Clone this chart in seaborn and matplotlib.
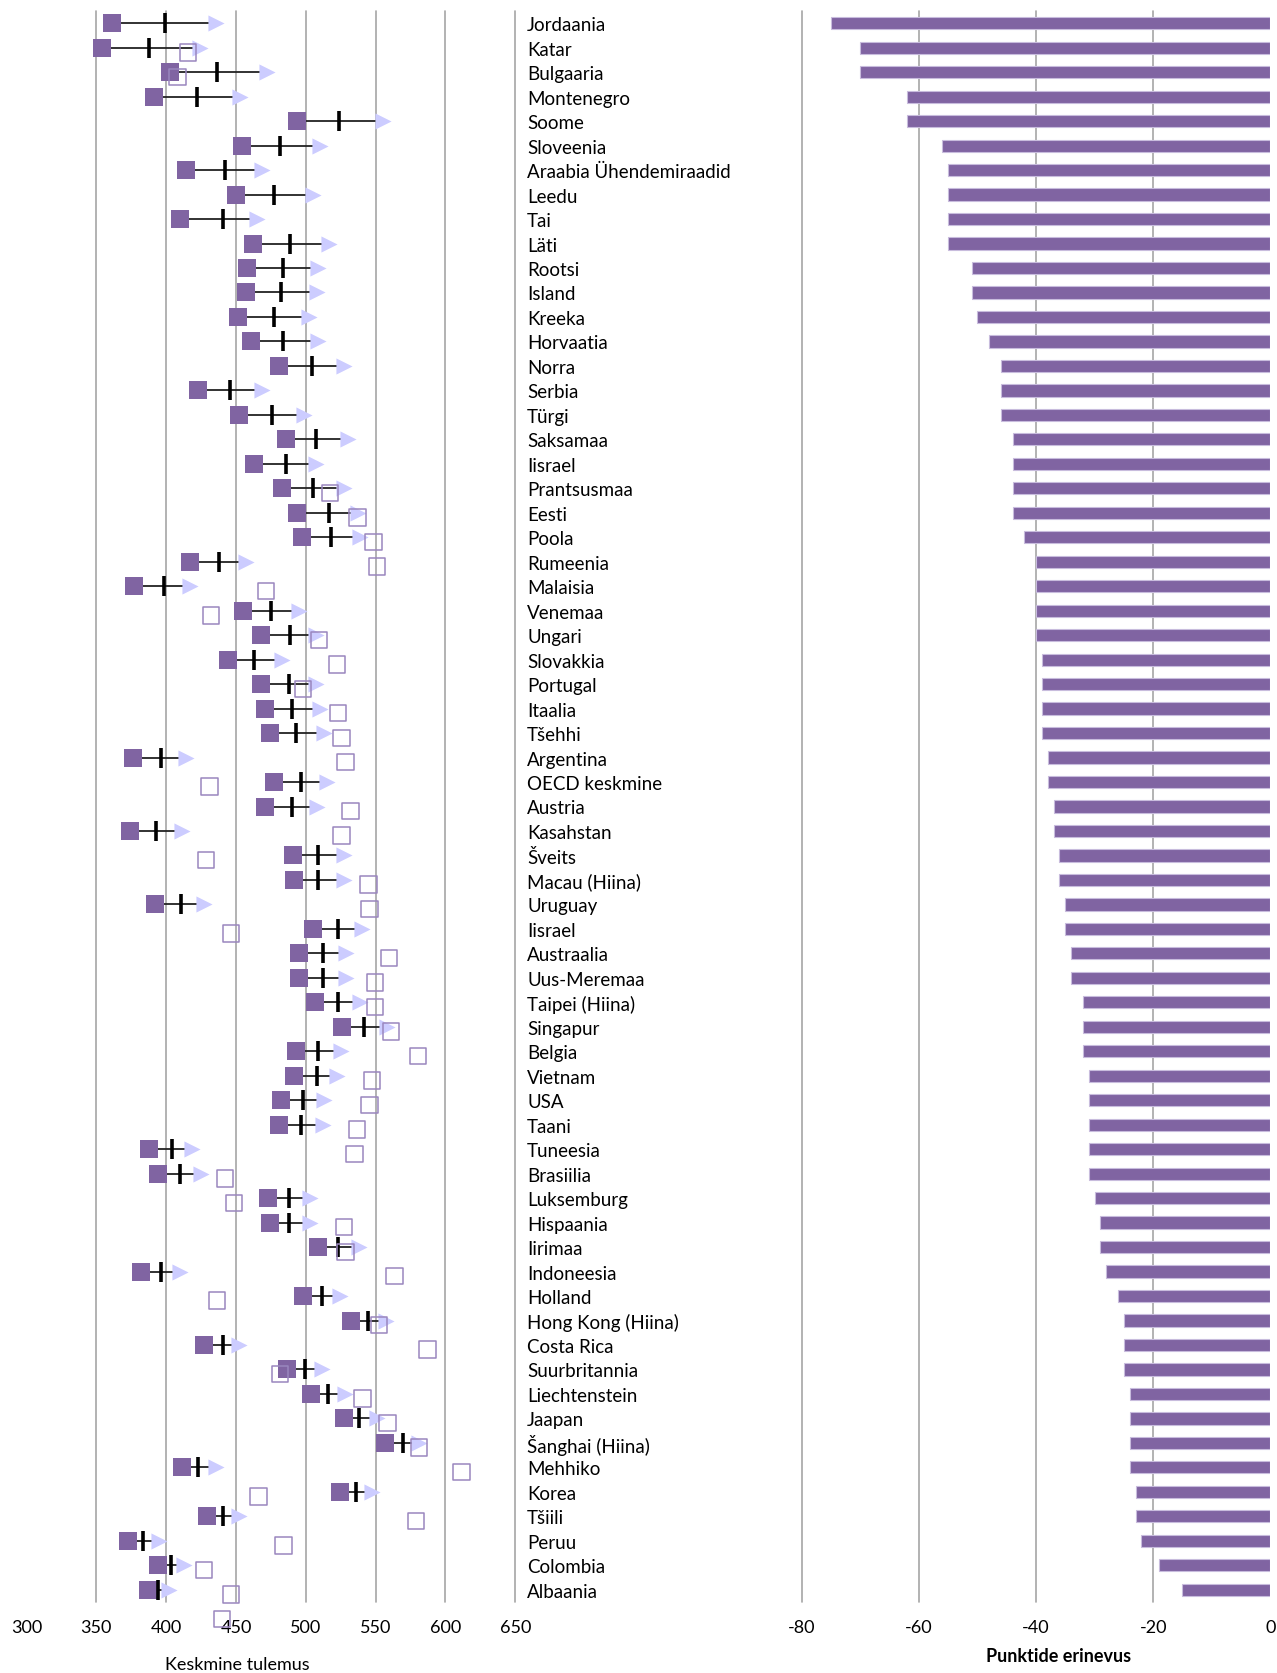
import numpy as np
import pandas as pd
import matplotlib
matplotlib.use("Agg")
import matplotlib.pyplot as plt
import seaborn as sns

countries = ["Jordaania", "Katar", "Bulgaaria", "Montenegro", "Soome", "Sloveenia",
             "Araabia Ühendemiraadid", "Leedu", "Tai", "Läti", "Rootsi", "Island",
             "Kreeka", "Horvaatia", "Norra", "Serbia", "Türgi", "Saksamaa", "Iisrael",
             "Prantsusmaa", "Eesti", "Poola", "Rumeenia", "Malaisia", "Venemaa",
             "Ungari", "Slovakkia", "Portugal", "Itaalia", "Tšehhi", "Argentina",
             "OECD keskmine", "Austria", "Kasahstan", "Šveits", "Macau (Hiina)",
             "Uruguay", "Iisrael", "Austraalia", "Uus-Meremaa", "Taipei (Hiina)",
             "Singapur", "Belgia", "Vietnam", "USA", "Taani", "Tuneesia", "Brasiilia",
             "Luksemburg", "Hispaania", "Iirimaa", "Indoneesia", "Holland",
             "Hong Kong (Hiina)", "Costa Rica", "Suurbritannia", "Liechtenstein",
             "Jaapan", "Šanghai (Hiina)", "Mehhiko", "Korea", "Tšiili", "Peruu",
             "Colombia", "Albaania"]

boys = [361, 354, 402.5, 391, 494, 454.5, 414, 450, 410, 462, 458, 457, 451.5, 461,
        481, 423, 452.5, 486, 463, 483, 494, 497, 417, 377, 455, 468, 444, 468, 471,
        474, 376.5, 477.5, 471, 374, 491, 491.5, 392, 505.5, 495, 495, 506.5, 526,
        493, 491.5, 482, 481, 388, 394.5, 473, 474, 509, 382, 498, 532.5, 427, 486.5,
        504, 527, 557, 411.5, 524.5, 429.5, 373, 394, 387]

means = [399, 388, 436.5, 422, 524, 481.5, 442, 477, 441, 488.5, 483.5, 482, 477, 484,
         504.5, 446, 475.5, 507.5, 485.5, 505.5, 516.5, 518, 437.5, 398.5, 475, 488.5,
         463, 488, 490, 493, 396.5, 496.5, 490, 392.5, 509, 509, 410.5, 523, 512, 512,
         523, 542, 509, 508, 498, 496.5, 404, 410, 488, 488, 523, 396.5, 511.5, 544.5,
         440.5, 499.5, 516, 538, 569.5, 423, 536, 440.5, 383.5, 403.5, 394]

girls = [436, 424, 472, 453, 555.5, 510, 468.5, 505, 465, 516.5, 509, 508, 502, 509,
         527, 468.5, 498.5, 530, 507, 527, 537.5, 538.5, 457, 417, 495, 507.5, 483, 507,
         510, 513, 414.5, 515.5, 508, 411, 527, 527, 427, 540.5, 529, 529, 538.5, 558,
         525, 522.5, 513, 512, 418.5, 425, 503, 503, 538, 410, 524.5, 557.5, 452, 511.5,
         528, 551, 581, 435.5, 547.5, 452.5, 395, 413, 402]

open_marks = [None, 415.5, 408] + [None] * 16 + [
    517.5, 537, 548.5, 551, 471.5, 432, 509.5, 522.5, 498, 523, 525.5, 528.5, 431,
    532, 525.5, 428.5, 545, 545.5, 446.5, 559.5, 549.5, 549.5, 561, 580.5, 547.5,
    545.5, 536.5, 535, 442, 448.5, 527.5, 528.5, 563.5, 436.5, 552.5, 587, 481.5,
    540.5, 558.5, 581, 611.5, 466, 579, 484, 427, 446.5, 440]

diffs = [-75, -70, -70, -62, -62, -56, -55, -55, -55, -55, -51, -51, -50, -48, -46,
         -46, -46, -44, -44, -44, -44, -42, -40, -40, -40, -40, -39, -39, -39, -39,
         -38, -38, -37, -37, -36, -36, -35, -35, -34, -34, -32, -32, -32, -31, -31,
         -31, -31, -31, -30, -29, -29, -28, -26, -25, -25, -25, -24, -24, -24, -24,
         -23, -23, -22, -19, -15]

left_ticks = [300, 350, 400, 450, 500, 550, 600, 650]
right_ticks = [-80, -60, -40, -20, 0]

# ---------------------------------------------------------------------------
sns.set_theme(style="white")
plt.rcParams["font.family"] = ["Lato", "DejaVu Sans"]
plt.rcParams["axes.unicode_minus"] = False

PURPLE = "#8064A2"
LAVENDER = "#CCCCFF"
GRID = "#A6A6A6"

n = len(countries)
rows = np.arange(n)
df = pd.DataFrame({"row": rows, "boys": boys, "means": means, "girls": girls,
                   "diff": diffs})
open_vals = np.array([np.nan if v is None else v for v in open_marks], dtype=float)
df_open = pd.DataFrame({"row": np.arange(len(open_vals)) + 0.19, "val": open_vals})

W, H = 1277, 1674
fig = plt.figure(figsize=(W / 100, H / 100), dpi=100)
top_px, bot_px = 12, 1603
axL = fig.add_axes([26.5 / W, 1 - bot_px / H, (515.3 - 26.5) / W, (bot_px - top_px) / H])
axR = fig.add_axes([801.7 / W, 1 - bot_px / H, (1270.3 - 801.7) / W, (bot_px - top_px) / H])

# ---------------- left panel ----------------
for v in left_ticks[1:]:
    axL.axvline(v, color=GRID, lw=1.2, zorder=0, clip_on=False)

axL.hlines(df["row"], df["boys"], df["girls"], color="#222222", lw=1.3, zorder=2)
sns.scatterplot(data=df, x="girls", y="row", marker=">", s=135, color=LAVENDER,
                linewidth=0, zorder=3, ax=axL)
sns.scatterplot(data=df, x="boys", y="row", marker="s", s=150, color=PURPLE,
                linewidth=0, zorder=4, ax=axL)
sns.scatterplot(data=df, x="means", y="row", marker="|", s=190, color="black",
                linewidth=2.6, zorder=5, ax=axL)
sns.scatterplot(data=df_open, x="val", y="row", marker="s", s=140, facecolor="none",
                edgecolor="#9A86BE", linewidth=1.1, zorder=6, ax=axL, clip_on=False)

axL.set_xlim(300, 650)
axL.set_ylim(n - 0.5, -0.5)
axL.set_xticks(left_ticks)
axL.set_xticklabels([str(t) for t in left_ticks])
axL.set_yticks(rows)
axL.set_yticklabels(countries)
axL.yaxis.tick_right()
axL.tick_params(axis="y", length=0, pad=8.5, labelsize=13.5, labelcolor="black")
axL.tick_params(axis="x", length=0, pad=12, labelsize=13, labelcolor="black")
axL.set_xlabel("")
axL.set_ylabel("")
for s in axL.spines.values():
    s.set_visible(False)

# ---------------- right panel ----------------
for v in right_ticks[:-1]:
    axR.axvline(v, color=GRID, lw=1.2, zorder=0, clip_on=False)
sns.barplot(data=df, x="diff", y="row", orient="h", color=PURPLE, saturation=1,
            width=0.5, edgecolor="#C8BCDD", linewidth=0.8, ax=axR, zorder=2)
axR.set_xlim(-80, 0)
axR.set_ylim(n - 0.5, -0.5)
axR.set_xticks(right_ticks)
axR.set_xticklabels([str(t) for t in right_ticks])
axR.set_yticks([])
axR.set_xlabel("")
axR.set_ylabel("")
axR.tick_params(axis="x", length=0, pad=12, labelsize=13, labelcolor="black")
for s in axR.spines.values():
    s.set_visible(False)

fig.text(237 / W, 1 - 1665 / H, "Keskmine tulemus", ha="center", va="center",
         fontsize=13, color="black")
fig.text(1059 / W, 1 - 1657 / H, "Punktide erinevus", ha="center", va="center",
         fontsize=13, fontweight="bold", color="black")

fig.savefig("out.png", dpi=100, facecolor="white")
